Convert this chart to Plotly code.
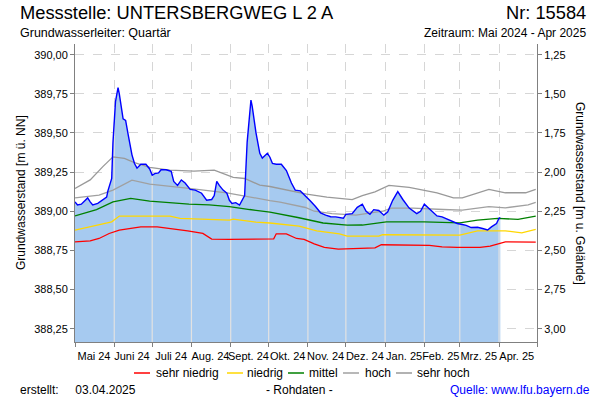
import numpy as np
import pandas as pd
import plotly.graph_objects as go

# ---------------- data ----------------
ground_level = 391.25  # m ü. NN  (0 m u. Gelände)

raw_dates = ["2024-05-01", "2024-05-03", "2024-05-06", "2024-05-11", "2024-05-13", "2024-05-15",
             "2024-05-19", "2024-05-23", "2024-05-26", "2024-05-27", "2024-05-30", "2024-05-31",
             "2024-06-02", "2024-06-04", "2024-06-05", "2024-06-08", "2024-06-10", "2024-06-12",
             "2024-06-15", "2024-06-17", "2024-06-19", "2024-06-22", "2024-06-26", "2024-06-29",
             "2024-07-01", "2024-07-03", "2024-07-06", "2024-07-08", "2024-07-12", "2024-07-16",
             "2024-07-18", "2024-07-21", "2024-07-24", "2024-07-27", "2024-07-31", "2024-08-04",
             "2024-08-09", "2024-08-13", "2024-08-17", "2024-08-19", "2024-08-21", "2024-08-23",
             "2024-08-26", "2024-08-29", "2024-08-31", "2024-09-02", "2024-09-05", "2024-09-08",
             "2024-09-12", "2024-09-14", "2024-09-17", "2024-09-18", "2024-09-21", "2024-09-24",
             "2024-09-26", "2024-09-30", "2024-10-02", "2024-10-04", "2024-10-07", "2024-10-11",
             "2024-10-15", "2024-10-19", "2024-10-22", "2024-10-26", "2024-10-30", "2024-11-03",
             "2024-11-07", "2024-11-11", "2024-11-15", "2024-11-19", "2024-11-23", "2024-11-29",
             "2024-12-01", "2024-12-06", "2024-12-10", "2024-12-14", "2024-12-17", "2024-12-20",
             "2024-12-23", "2024-12-27", "2024-12-31", "2025-01-03", "2025-01-07", "2025-01-11",
             "2025-01-15", "2025-01-20", "2025-01-26", "2025-01-29", "2025-02-01", "2025-02-05",
             "2025-02-11", "2025-02-15", "2025-02-21", "2025-02-27", "2025-03-03", "2025-03-06",
             "2025-03-10", "2025-03-15", "2025-03-19", "2025-03-23", "2025-03-26", "2025-03-30",
             "2025-04-01", "2025-04-02"]
raw_values = [389.060, 389.040, 389.045, 389.085, 389.060, 389.040,
              389.050, 389.075, 389.090, 389.130, 389.210, 389.440,
              389.700, 389.790, 389.750, 389.590, 389.580, 389.490,
              389.360, 389.305, 389.275, 389.300, 389.300, 389.270,
              389.230, 389.240, 389.245, 389.265, 389.265, 389.255,
              389.190, 389.165, 389.200, 389.180, 389.140, 389.135,
              389.115, 389.070, 389.075, 389.100, 389.190, 389.165,
              389.135, 389.115, 389.070, 389.050, 389.055, 389.040,
              389.100, 389.440, 389.710, 389.670, 389.500, 389.370,
              389.340, 389.370, 389.345, 389.305, 389.300, 389.300,
              389.260, 389.180, 389.135, 389.130, 389.100, 389.065,
              389.030, 388.990, 388.975, 388.965, 388.964, 388.955,
              388.980, 388.985, 389.025, 389.045, 389.000, 388.980,
              389.010, 389.005, 388.975, 388.995, 389.070, 389.125,
              389.075, 389.020, 388.985, 389.000, 389.045, 389.015,
              388.970, 388.964, 388.943, 388.922, 388.915, 388.910,
              388.896, 388.898, 388.890, 388.880, 388.900, 388.922,
              388.955, 388.960]

sehr_hoch_dates = ["2024-05-01", "2024-05-13", "2024-05-23", "2024-05-31", "2024-06-09", "2024-06-17",
                   "2024-06-29", "2024-07-15", "2024-08-03", "2024-08-19", "2024-09-03", "2024-09-12",
                   "2024-09-24", "2024-10-02", "2024-10-31", "2024-11-16", "2024-12-06", "2024-12-14",
                   "2024-12-24", "2025-01-04", "2025-01-20", "2025-02-11", "2025-02-24", "2025-03-03",
                   "2025-03-24", "2025-04-06", "2025-04-22", "2025-04-30"]
sehr_hoch_values = [389.146, 389.200, 389.285, 389.347, 389.337, 389.310,
                    389.280, 389.262, 389.256, 389.262, 389.216, 389.209,
                    389.167, 389.158, 389.110, 389.090, 389.074, 389.100,
                    389.124, 389.165, 389.152, 389.118, 389.086, 389.086,
                    389.140, 389.118, 389.118, 389.140]

hoch_dates = ["2024-05-01", "2024-05-20", "2024-05-31", "2024-06-15", "2024-06-29", "2024-07-15",
              "2024-07-30", "2024-08-29", "2024-09-16", "2024-10-02", "2024-10-10", "2024-10-30",
              "2024-11-06", "2024-11-20", "2024-12-09", "2024-12-30", "2025-01-06", "2025-01-23",
              "2025-02-16", "2025-03-03", "2025-03-24", "2025-04-06", "2025-04-24", "2025-04-30"]
hoch_values = [389.086, 389.103, 389.135, 389.199, 389.173, 389.160,
               389.146, 389.118, 389.090, 389.068, 389.058, 389.024,
               389.000, 388.985, 388.975, 389.000, 389.020, 389.020,
               389.011, 389.007, 389.030, 389.022, 389.040, 389.056]

mittel_dates = ["2024-05-01", "2024-05-18", "2024-05-31", "2024-06-14", "2024-06-29", "2024-07-15",
                "2024-07-30", "2024-08-15", "2024-08-31", "2024-09-16", "2024-09-26", "2024-10-02",
                "2024-10-24", "2024-11-13", "2024-12-02", "2024-12-14", "2025-01-02", "2025-02-01",
                "2025-03-01", "2025-03-15", "2025-03-31", "2025-04-16", "2025-04-30"]
mittel_values = [388.970, 389.011, 389.060, 389.082, 389.064, 389.054,
                 389.045, 389.041, 389.030, 389.011, 388.998, 388.995,
                 388.960, 388.925, 388.911, 388.912, 388.932, 388.932,
                 388.926, 388.943, 388.954, 388.948, 388.969]

niedrig_dates = ["2024-05-01", "2024-05-20", "2024-05-30", "2024-06-05", "2024-07-15", "2024-07-23",
                 "2024-08-31", "2024-09-03", "2024-09-21", "2024-10-02", "2024-10-25", "2024-11-08",
                 "2024-11-26", "2024-12-02", "2024-12-27", "2024-12-30", "2025-02-01", "2025-03-01",
                 "2025-03-15", "2025-04-06", "2025-04-19", "2025-04-30"]
niedrig_values = [388.879, 388.911, 388.932, 388.969, 388.969, 388.954,
                  388.943, 388.950, 388.930, 388.925, 388.905, 388.875,
                  388.855, 388.841, 388.841, 388.850, 388.850, 388.847,
                  388.875, 388.875, 388.862, 388.884]

sehr_niedrig_dates = ["2024-05-01", "2024-05-13", "2024-05-20", "2024-05-28", "2024-06-05", "2024-06-14",
                      "2024-06-22", "2024-07-05", "2024-07-15", "2024-07-29", "2024-08-10", "2024-08-17",
                      "2024-08-31", "2024-10-05", "2024-10-07", "2024-10-15", "2024-10-23", "2024-10-29",
                      "2024-11-06", "2024-11-14", "2024-11-25", "2024-12-08", "2024-12-24", "2024-12-29",
                      "2025-02-05", "2025-02-15", "2025-02-27", "2025-03-17", "2025-03-25", "2025-04-06",
                      "2025-04-30"]
sehr_niedrig_values = [388.805, 388.811, 388.826, 388.858, 388.879, 388.890,
                       388.900, 388.900, 388.890, 388.875, 388.858, 388.822,
                       388.820, 388.824, 388.856, 388.855, 388.826, 388.820,
                       388.792, 388.769, 388.758, 388.762, 388.766, 388.786,
                       388.782, 388.773, 388.769, 388.769, 388.777, 388.805,
                       388.803]

month_starts = ["2024-05-01", "2024-06-01", "2024-07-01", "2024-08-01", "2024-09-01", "2024-10-01",
                "2024-11-01", "2024-12-01", "2025-01-01", "2025-02-01", "2025-03-01", "2025-04-01",
                "2025-05-01"]
month_mids = ["2024-05-16", "2024-06-15", "2024-07-16", "2024-08-16", "2024-09-15", "2024-10-16",
              "2024-11-15", "2024-12-16", "2025-01-16", "2025-02-14", "2025-03-16", "2025-04-15"]
month_labels = ["Mai 24", "Juni 24", "Juli 24", "Aug. 24", "Sept. 24", "Okt. 24", "Nov. 24",
                "Dez. 24", "Jan. 25", "Feb. 25", "Mrz. 25", "Apr. 25"]

left_ticks = [388.25, 388.50, 388.75, 389.00, 389.25, 389.50, 389.75, 390.00]
right_ticks = [1.25, 1.50, 1.75, 2.00, 2.25, 2.50, 2.75, 3.00]

# ---------------- layout geometry ----------------
W, H = 600, 400
ML, MR, MT, MB = 75, 63, 44, 58
PW, PH = W - ML - MR, H - MT - MB
Y_MIN, Y_MAX = 388.165, 390.068

def px(x):
    return (x - ML) / PW

def py(y):
    return (H - MB - y) / PH

FONT = "Liberation Sans, Arial, sans-serif"

fig = go.Figure()

# filled area of raw data
fig.add_trace(go.Scatter(x=raw_dates, y=raw_values, mode="lines", line=dict(width=0, color="#A6CAF0"),
                         fill="tozeroy", fillcolor="#A6CAF0", showlegend=False, hoverinfo="skip"))

# month separators inside the filled area (solid, light)
raw_num = pd.to_datetime(raw_dates).astype("int64").to_numpy()
ms = pd.to_datetime(month_starts)
seg_x, seg_y = [], []
for d in ms:
    t = d.value
    if raw_num[0] < t <= raw_num[-1]:
        v = float(np.interp(t, raw_num, raw_values))
        seg_x += [d, d, None]
        seg_y += [Y_MIN - 1, v, None]
fig.add_trace(go.Scatter(x=seg_x, y=seg_y, mode="lines", line=dict(width=1.2, color="#E2E2E2"),
                         showlegend=False, hoverinfo="skip"))

series = [
    ("sehr niedrig", sehr_niedrig_dates, sehr_niedrig_values, "#FF0000"),
    ("niedrig", niedrig_dates, niedrig_values, "#FFD700"),
    ("mittel", mittel_dates, mittel_values, "#008000"),
    ("hoch", hoch_dates, hoch_values, "#A0A0A0"),
    ("sehr hoch", sehr_hoch_dates, sehr_hoch_values, "#999999"),
]
for name, xd, yd, col in series:
    fig.add_trace(go.Scatter(x=xd, y=yd, mode="lines", name=name, line=dict(color=col, width=1.3),
                             showlegend=False))

# raw data line
fig.add_trace(go.Scatter(x=raw_dates, y=raw_values, mode="lines", line=dict(color="#0000FF", width=1.4),
                         showlegend=False, name="Rohdaten"))

# invisible trace on the right axis (m u. Gelände)
fig.add_trace(go.Scatter(x=raw_dates, y=[ground_level - v for v in raw_values], yaxis="y2", mode="lines",
                         line=dict(width=0, color="rgba(0,0,0,0)"), showlegend=False, hoverinfo="skip"))

axis_col = "#808080"
fig.update_layout(
    width=W, height=H,
    margin=dict(l=ML, r=MR, t=MT, b=MB, autoexpand=False),
    paper_bgcolor="white", plot_bgcolor="white",
    separators=",.",
    showlegend=False,
    font=dict(family=FONT, size=11, color="black"),
    xaxis=dict(
        type="date", range=[month_starts[0], month_starts[-1]], automargin=False,
        tickmode="array", tickvals=month_mids, ticktext=month_labels, ticks="", tickangle=0,
        showgrid=False, showline=True, linecolor=axis_col, linewidth=1, zeroline=False,
        tickfont=dict(size=11), ticklabelstandoff=4,
        minor=dict(tickmode="array", tickvals=month_starts, ticks="outside", ticklen=4,
                   tickcolor=axis_col, showgrid=True, gridcolor="#D6D6D6", griddash="dash", gridwidth=1),
    ),
    yaxis=dict(
        range=[Y_MIN, Y_MAX], tickmode="array", tickvals=left_ticks, tickformat=".2f", automargin=False,
        ticks="outside", ticklen=4, tickcolor=axis_col, showline=True, linecolor=axis_col,
        showgrid=True, gridcolor="#D6D6D6", griddash="dash", zeroline=False, tickfont=dict(size=11),
    ),
    yaxis2=dict(
        overlaying="y", side="right", automargin=False,
        range=[ground_level - Y_MIN, ground_level - Y_MAX], tickmode="array", tickvals=right_ticks,
        tickformat=".2f", ticks="outside", ticklen=4, tickcolor=axis_col, showline=True,
        linecolor=axis_col, showgrid=False, zeroline=False, tickfont=dict(size=11),
    ),
)

def ann(text, x, y, xanchor="left", size=11, color="black", angle=0):
    fig.add_annotation(text=text, x=px(x), y=py(y), xref="paper", yref="paper", xanchor=xanchor,
                       yanchor="middle", showarrow=False, textangle=angle, borderpad=0,
                       font=dict(family=FONT, size=size, color=color))

ann("Messstelle: UNTERSBERGWEG L 2 A", 19, 13, size=18.3)
ann("Nr: 15584", 587, 13, xanchor="right", size=18.3)
ann("Grundwasserleiter: Quartär", 19, 33, size=12.5)
ann("Zeitraum: Mai 2024 - Apr 2025", 587, 33, xanchor="right", size=12)
ann("Grundwasserstand [m ü. NN]", 21, 193, xanchor="center", size=12, angle=-90)
ann("Grundwasserstand [m u. Gelände]", 580, 193, xanchor="center", size=12, angle=90)
ann("erstellt:&nbsp;&nbsp;&nbsp;&nbsp; 03.04.2025", 19, 390, size=12)
ann("- Rohdaten -", 299, 390, xanchor="center", size=12)
ann("Quelle: www.lfu.bayern.de", 591, 390, xanchor="right", size=12, color="#0000FF")

# legend (drawn to match the compact original layout)
legend_pos = [(134, 155), (227, 246), (288, 308), (343, 364), (396, 416)]
for (name, _, _, col), (lx, tx) in zip(series, legend_pos):
    fig.add_shape(type="line", xref="paper", yref="paper", x0=px(lx), x1=px(lx + 16),
                  y0=py(373), y1=py(373), line=dict(color=col, width=1.5))
    ann(name, tx, 373, size=12)

fig.write_html("out.html", config={"displayModeBar": False},
               post_script="document.body.style.margin='0';document.body.style.overflow='hidden';")
